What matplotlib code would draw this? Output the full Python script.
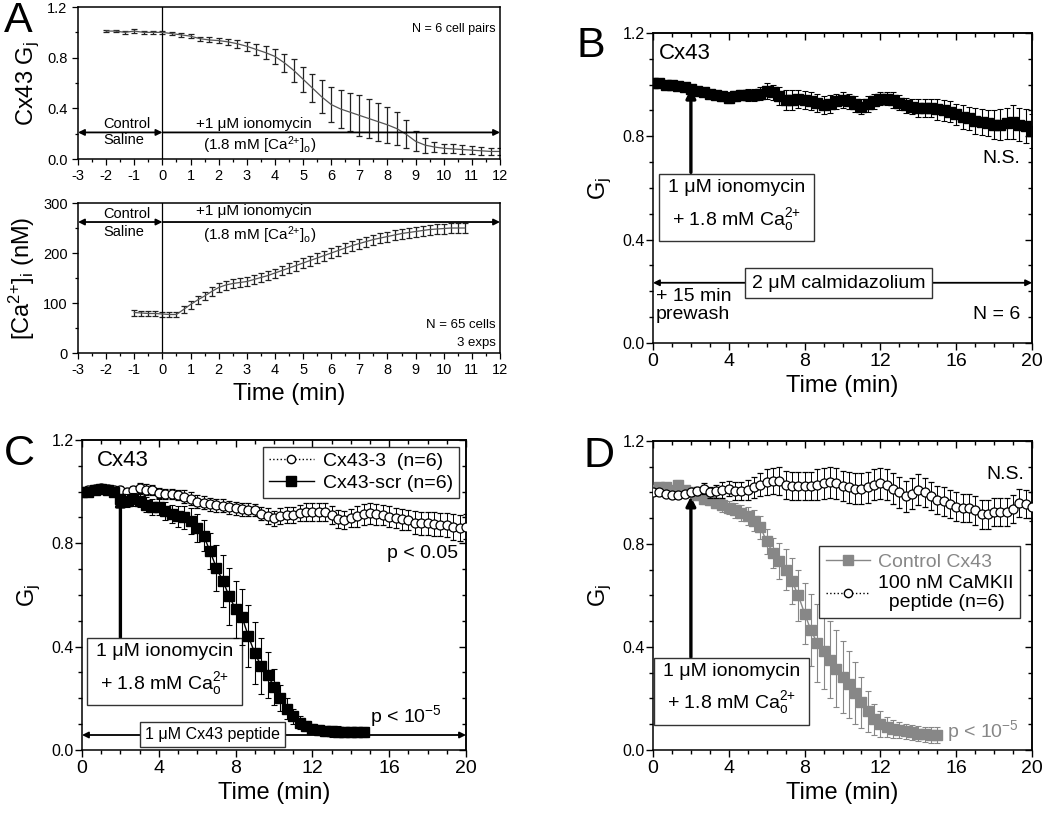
import numpy as np
import matplotlib.pyplot as plt
from matplotlib.ticker import MultipleLocator
from matplotlib.lines import Line2D

plt.rcParams['font.family'] = ['Liberation Sans', 'DejaVu Sans']
plt.rcParams['mathtext.fontset'] = 'custom'
plt.rcParams['mathtext.rm'] = 'Liberation Sans'
plt.rcParams['mathtext.it'] = 'Liberation Sans:italic'
plt.rcParams['mathtext.default'] = 'regular'
plt.rcParams['axes.unicode_minus'] = False
plt.rcParams['axes.linewidth'] = 1.1

# ---------------- data ----------------
# Panel A (top): Cx43 Gj, one point every 20 s from -2 to 12 min
a_gj_time = np.arange(43) / 3 - 2
a_gj = [1.01, 1.01, 1.00, 1.01, 1.00, 1.00, 1.00, 0.99, 0.98, 0.97,
        0.95, 0.94, 0.935, 0.925, 0.91, 0.89, 0.865, 0.84, 0.81, 0.76,
        0.70, 0.63, 0.56, 0.49, 0.43, 0.395, 0.37, 0.345, 0.32, 0.295,
        0.27, 0.24, 0.195, 0.14, 0.11, 0.095, 0.085, 0.08, 0.075, 0.07,
        0.065, 0.06, 0.06]
a_gj_err = [0.01, 0.01, 0.01, 0.015, 0.01, 0.01, 0.01, 0.01, 0.015, 0.015,
            0.015, 0.02, 0.02, 0.025, 0.03, 0.035, 0.04, 0.05, 0.06, 0.07,
            0.09, 0.10, 0.11, 0.13, 0.14, 0.15, 0.15, 0.16, 0.15, 0.15,
            0.14, 0.13, 0.11, 0.08, 0.06, 0.04, 0.035, 0.035, 0.035, 0.03,
            0.03, 0.03, 0.03]

# Panel A (bottom): [Ca2+]i, one point every 15 s from -1 min
a_ca_time = np.arange(48) * 0.25 - 1
a_ca = [81, 80, 79, 79, 78, 77, 77, 87, 97, 106, 114, 123, 131, 136, 139, 141,
        143, 147, 151, 155, 160, 165, 170, 175, 180, 185, 190, 195, 200, 205,
        210, 215, 219, 223, 227, 230, 233, 236, 239, 241, 243, 245, 247, 248,
        249, 250, 250, 250]
a_ca_err = [6, 5, 5, 5, 5, 5, 5, 7, 8, 8, 8, 9, 9, 9, 9, 9,
            9, 9, 9, 9, 9, 9, 10, 10, 10, 10, 10, 10, 10, 10,
            10, 10, 10, 10, 10, 10, 10, 10, 10, 10, 10, 10, 10, 10,
            10, 10, 10, 10]

# Panel B: calmidazolium, 20 s sampling 0-20 min
b_time = np.arange(61) / 3
b_gj = [1.005, 1.005, 1.00, 1.00, 0.995, 0.99, 0.985, 0.975, 0.97, 0.965,
        0.96, 0.955, 0.95, 0.955, 0.96, 0.96, 0.96, 0.965, 0.975, 0.97,
        0.955, 0.94, 0.94, 0.945, 0.94, 0.935, 0.93, 0.92, 0.925, 0.935,
        0.94, 0.935, 0.925, 0.915, 0.925, 0.935, 0.945, 0.945, 0.94, 0.93,
        0.92, 0.915, 0.91, 0.91, 0.91, 0.905, 0.90, 0.895, 0.885, 0.875,
        0.87, 0.86, 0.855, 0.85, 0.845, 0.845, 0.85, 0.855, 0.845, 0.84,
        0.82]
b_err = [0.012, 0.01, 0.01, 0.01, 0.01, 0.012, 0.012, 0.012, 0.015,
         0.015, 0.015, 0.018, 0.02, 0.02, 0.02, 0.022, 0.022, 0.025,
         0.03, 0.03, 0.035, 0.04, 0.04, 0.035, 0.035, 0.035, 0.035,
         0.035, 0.035, 0.03, 0.03, 0.03, 0.03, 0.03, 0.03, 0.03,
         0.025, 0.025, 0.03, 0.03, 0.03, 0.03, 0.035, 0.035, 0.035,
         0.04, 0.04, 0.04, 0.04, 0.045, 0.045, 0.05, 0.05, 0.05,
         0.055, 0.06, 0.06, 0.065, 0.065, 0.065, 0.065]

# Panel C: Cx43-scr (0-14.7 min) and Cx43-3 (0-20 min)
c_scr_time = np.arange(45) / 3
c_scr = [1.00, 1.00, 1.005, 1.01, 1.005, 1.00, 0.97, 0.965, 0.97,
         0.965, 0.95, 0.94, 0.94, 0.925, 0.915, 0.905, 0.90, 0.885,
         0.86, 0.83, 0.77, 0.705, 0.655, 0.595, 0.545, 0.515, 0.44,
         0.375, 0.325, 0.29, 0.245, 0.20, 0.16, 0.13, 0.105, 0.092,
         0.082, 0.078, 0.074, 0.072, 0.071, 0.07, 0.07, 0.07, 0.07]
c_scr_err = [0.015, 0.015, 0.015, 0.015, 0.015, 0.015, 0.02, 0.025, 0.025,
             0.025, 0.03, 0.03, 0.03, 0.035, 0.035, 0.04, 0.045, 0.05,
             0.055, 0.06, 0.07, 0.09, 0.10, 0.11, 0.11, 0.11, 0.12,
             0.12, 0.11, 0.09, 0.07, 0.05, 0.04, 0.03, 0.025, 0.02,
             0.02, 0.02, 0.02, 0.02, 0.02, 0.02, 0.02, 0.02, 0.02]
c_cx3_time = np.arange(61) / 3
c_cx3 = [1.00, 1.005, 1.01, 1.013, 1.01, 1.005, 1.006, 1.00, 1.005,
         1.013, 1.008, 1.006, 0.994, 0.99, 0.99, 0.987, 0.98, 0.972,
         0.961, 0.958, 0.952, 0.948, 0.945, 0.94, 0.935, 0.932, 0.93,
         0.929, 0.915, 0.905, 0.897, 0.905, 0.91, 0.91, 0.918, 0.923,
         0.923, 0.923, 0.92, 0.91, 0.895, 0.89, 0.897, 0.905, 0.912,
         0.916, 0.912, 0.91, 0.903, 0.898, 0.893, 0.89, 0.88, 0.877,
         0.877, 0.875, 0.872, 0.871, 0.862, 0.858, 0.865]
c_cx3_err = [0.015, 0.015, 0.015, 0.015, 0.015, 0.015, 0.015, 0.015, 0.015,
             0.02, 0.02, 0.02, 0.02, 0.02, 0.02, 0.02, 0.025, 0.025,
             0.025, 0.025, 0.025, 0.025, 0.025, 0.025, 0.025, 0.025, 0.025,
             0.025, 0.025, 0.03, 0.03, 0.03, 0.03, 0.03, 0.03, 0.035,
             0.035, 0.035, 0.035, 0.035, 0.035, 0.035, 0.035, 0.04, 0.04,
             0.04, 0.04, 0.04, 0.04, 0.04, 0.04, 0.04, 0.045, 0.045,
             0.045, 0.045, 0.045, 0.045, 0.05, 0.05, 0.05]

# Panel D: control Cx43 (0-15 min) and CaMKII peptide (0-20 min)
d_ctl_time = np.arange(46) / 3
d_ctl = [1.01, 1.02, 1.02, 1.01, 1.03, 1.01, 1.00, 0.99, 0.975,
         0.97, 0.96, 0.95, 0.94, 0.93, 0.92, 0.91, 0.89, 0.865,
         0.81, 0.765, 0.735, 0.70, 0.655, 0.60, 0.53, 0.465, 0.415,
         0.385, 0.35, 0.315, 0.285, 0.255, 0.222, 0.185, 0.15, 0.12,
         0.10, 0.09, 0.083, 0.077, 0.072, 0.068, 0.064, 0.061, 0.059,
         0.058]
d_ctl_err = [0.015, 0.015, 0.015, 0.015, 0.02, 0.015, 0.015, 0.02, 0.02,
             0.02, 0.02, 0.025, 0.025, 0.03, 0.03, 0.035, 0.04, 0.045,
             0.05, 0.06, 0.07, 0.08, 0.09, 0.10, 0.12, 0.14, 0.15,
             0.15, 0.15, 0.15, 0.14, 0.13, 0.12, 0.10, 0.08, 0.06,
             0.05, 0.04, 0.035, 0.03, 0.03, 0.03, 0.03, 0.03, 0.03,
             0.03]
d_pep_time = np.arange(61) / 3
d_pep = [1.00, 1.00, 0.995, 0.99, 0.99, 0.995, 1.00, 1.005, 1.015,
         1.00, 1.005, 1.01, 1.015, 1.005, 1.005, 1.01, 1.02, 1.03,
         1.04, 1.045, 1.045, 1.03, 1.025, 1.025, 1.025, 1.025, 1.03,
         1.035, 1.04, 1.035, 1.025, 1.02, 1.015, 1.015, 1.02, 1.03,
         1.035, 1.03, 1.015, 1.00, 0.985, 0.995, 1.01, 1.00, 0.985,
         0.97, 0.965, 0.955, 0.945, 0.94, 0.94, 0.93, 0.915, 0.915,
         0.925, 0.925, 0.925, 0.935, 0.96, 0.955, 0.945]
d_pep_err = [0.01, 0.01, 0.01, 0.01, 0.01, 0.01, 0.015, 0.015, 0.02,
             0.02, 0.025, 0.03, 0.03, 0.035, 0.035, 0.04, 0.04, 0.045,
             0.05, 0.05, 0.055, 0.055, 0.055, 0.055, 0.055, 0.055, 0.06,
             0.06, 0.06, 0.06, 0.06, 0.06, 0.06, 0.06, 0.06, 0.06,
             0.06, 0.06, 0.06, 0.06, 0.06, 0.06, 0.06, 0.055, 0.055,
             0.055, 0.055, 0.055, 0.055, 0.055, 0.055, 0.055, 0.055, 0.055,
             0.055, 0.055, 0.055, 0.055, 0.055, 0.055, 0.055]

GRAY = '#878787'
iono_txt = '1 \u03bcM ionomycin\n+ 1.8 mM Ca$^{2{+}}_{o}$'
ca_o_txt = '(1.8 mM [Ca$^{2{+}}$]$_o$)'


def mirror_ticks(ax, xmaj, xmin, ymaj, ymin):
    # Origin style: ticks out on left/bottom, in on top/right
    top = ax.secondary_xaxis('top')
    top.xaxis.set_major_locator(MultipleLocator(xmaj))
    top.xaxis.set_minor_locator(MultipleLocator(xmin))
    top.tick_params(which='both', direction='in', labeltop=False)
    top.tick_params(which='major', length=5, width=1)
    top.tick_params(which='minor', length=3, width=1)
    right = ax.secondary_yaxis('right')
    right.yaxis.set_major_locator(MultipleLocator(ymaj))
    right.yaxis.set_minor_locator(MultipleLocator(ymin))
    right.tick_params(which='both', direction='in', labelright=False)
    right.tick_params(which='major', length=5, width=1)
    right.tick_params(which='minor', length=3, width=1)


def gj_axes(ax):
    ax.set_xlim(0, 20)
    ax.set_ylim(0, 1.2)
    ax.xaxis.set_major_locator(MultipleLocator(4))
    ax.xaxis.set_minor_locator(MultipleLocator(1))
    ax.yaxis.set_major_locator(MultipleLocator(0.4))
    ax.yaxis.set_minor_locator(MultipleLocator(0.1))
    ax.tick_params(which='major', direction='out', length=5, width=1)
    ax.tick_params(which='minor', direction='out', length=3, width=1)
    ax.tick_params(axis='x', labelsize=14, pad=2)
    ax.tick_params(axis='y', labelsize=11.5, pad=1)
    ax.set_xlabel('Time (min)', fontsize=17, labelpad=4)
    ax.set_ylabel('G$_j$', fontsize=17, labelpad=6)
    mirror_ticks(ax, 4, 1, 0.4, 0.1)


def iono_box(ax, cx, cy, ytop):
    ax.annotate('', xy=(2, 0.985), xytext=(2, ytop),
                arrowprops=dict(arrowstyle='-|>', lw=2.4, color='k',
                                mutation_scale=14, shrinkA=0, shrinkB=0))
    ax.text(cx, cy, iono_txt, ha='center', va='center', fontsize=14,
            linespacing=1.5,
            bbox=dict(boxstyle='square,pad=0.45', fc='white', ec='#333333', lw=1))


def hline_arrow(ax, x0, x1, y, both=True):
    style = '<|-|>' if both else '-|>'
    ax.annotate('', xy=(x1, y), xytext=(x0, y),
                arrowprops=dict(arrowstyle=style, lw=1.3, color='k',
                                mutation_scale=9, shrinkA=0, shrinkB=0))


fig = plt.figure(figsize=(10.5, 8.16), dpi=100)

# ---------------- Panel A ----------------
axA1 = fig.add_axes([0.0743, 0.8051, 0.4019, 0.1863])
axA2 = fig.add_axes([0.0743, 0.5674, 0.4019, 0.1838])

axA1.errorbar(a_gj_time, a_gj, yerr=a_gj_err, color='#555555', lw=0.9,
              ecolor='#222222', elinewidth=0.9, capsize=2.5, capthick=0.9)
axA1.set_ylim(0, 1.2)
axA1.yaxis.set_major_locator(MultipleLocator(0.4))
axA1.yaxis.set_minor_locator(MultipleLocator(0.2))
axA1.set_ylabel('Cx43 G$_j$', fontsize=17, labelpad=4)
axA1.text(11.85, 1.03, 'N = 6 cell pairs', ha='right', va='center', fontsize=9)
axA1.text(-2.1, 0.28, 'Control', ha='left', va='center', fontsize=10.5)
axA1.text(-2.1, 0.15, 'Saline', ha='left', va='center', fontsize=10.5)
axA1.text(3.25, 0.28, '+1 \u03bcM ionomycin', ha='center', va='center', fontsize=11)
axA1.text(3.45, 0.11, ca_o_txt, ha='center', va='center', fontsize=11)
hline_arrow(axA1, -3, 0, 0.21)
hline_arrow(axA1, 0, 12, 0.21, both=False)

axA2.errorbar(a_ca_time, a_ca, yerr=a_ca_err, color='#555555', lw=0.9,
              ecolor='#222222', elinewidth=0.9, capsize=2.5, capthick=0.9)
axA2.set_ylim(0, 300)
axA2.yaxis.set_major_locator(MultipleLocator(100))
axA2.yaxis.set_minor_locator(MultipleLocator(50))
axA2.set_ylabel('[Ca$^{2{+}}$]$_i$ (nM)', fontsize=17, labelpad=4)
axA2.set_xlabel('Time (min)', fontsize=17, labelpad=4)
axA2.text(11.85, 56, 'N = 65 cells', ha='right', va='center', fontsize=9.5)
axA2.text(11.85, 20, '3 exps', ha='right', va='center', fontsize=9.5)
axA2.text(-2.1, 278, 'Control', ha='left', va='center', fontsize=10.5)
axA2.text(-2.1, 243, 'Saline', ha='left', va='center', fontsize=10.5)
axA2.text(3.25, 285, '+1 \u03bcM ionomycin', ha='center', va='center', fontsize=11)
axA2.text(3.45, 236, ca_o_txt, ha='center', va='center', fontsize=11)
hline_arrow(axA2, -3, 0, 262)
hline_arrow(axA2, 0, 12, 262, both=False)

for ax in (axA1, axA2):
    ax.set_xlim(-3, 12)
    ax.axvline(0, color='k', lw=0.9)
    ax.xaxis.set_major_locator(MultipleLocator(1))
    ax.xaxis.set_minor_locator(MultipleLocator(0.5))
    ax.tick_params(which='major', direction='out', length=4, width=0.9, labelsize=10.5)
    ax.tick_params(which='minor', direction='out', length=2.5, width=0.9)

# ---------------- Panel B ----------------
axB = fig.add_axes([0.6219, 0.5797, 0.361, 0.3799])
axB.errorbar(b_time, b_gj, yerr=b_err, fmt='s-', color='k', ms=7, lw=1,
             ecolor='k', elinewidth=0.8, capsize=2.2, capthick=0.8)
gj_axes(axB)
axB.text(0.3, 1.12, 'Cx43', ha='left', va='center', fontsize=16)
axB.text(19.4, 0.715, 'N.S.', ha='right', va='center', fontsize=14)
axB.text(19.4, 0.11, 'N = 6', ha='right', va='center', fontsize=14)
axB.text(0.15, 0.145, '+ 15 min\nprewash', ha='left', va='center', fontsize=14,
         linespacing=1.15)
hline_arrow(axB, 0, 20, 0.233)
axB.text(9.8, 0.232, '2 \u03bcM calmidazolium', ha='center', va='center', fontsize=14,
         bbox=dict(boxstyle='square,pad=0.35', fc='white', ec='#333333', lw=1))
iono_box(axB, 4.4, 0.53, 0.66)

# ---------------- Panel C ----------------
axC = fig.add_axes([0.0781, 0.0809, 0.3657, 0.3799])
axC.errorbar(c_cx3_time, c_cx3, yerr=c_cx3_err, fmt='o:', color='k', ms=6.5,
             mfc='white', mec='k', mew=0.9, lw=0.8, ecolor='k',
             elinewidth=0.7, capsize=2, capthick=0.7, zorder=3)
axC.errorbar(c_scr_time, c_scr, yerr=c_scr_err, fmt='s-', color='k', ms=6.5,
             lw=1, ecolor='k', elinewidth=0.8, capsize=2, capthick=0.8, zorder=4)
gj_axes(axC)
axC.text(0.8, 1.12, 'Cx43', ha='left', va='center', fontsize=16)
axC.text(19.6, 0.76, 'p < 0.05', ha='right', va='center', fontsize=14)
axC.text(15.0, 0.13, 'p < 10$^{-5}$', ha='left', va='center', fontsize=14)
hline_arrow(axC, 0, 20, 0.058)
axC.text(6.8, 0.06, '1 \u03bcM Cx43 peptide', ha='center', va='center', fontsize=11.5,
         bbox=dict(boxstyle='square,pad=0.3', fc='white', ec='#333333', lw=1))
iono_box(axC, 4.3, 0.31, 0.435)
c_handles = [Line2D([], [], ls=':', color='k', lw=1, marker='o', ms=6,
                    mfc='white', mec='k'),
             Line2D([], [], ls='-', color='k', lw=1, marker='s', ms=7)]
legC = axC.legend(c_handles, ['Cx43-3  (n=6)', 'Cx43-scr (n=6)'], loc='upper right',
                  fontsize=14, frameon=True, fancybox=False, edgecolor='#333333',
                  framealpha=1, handlelength=2.3, borderpad=0.3, labelspacing=0.2,
                  handletextpad=0.5, borderaxespad=0.35)
legC.get_frame().set_linewidth(1)

# ---------------- Panel D ----------------
axD = fig.add_axes([0.6219, 0.0809, 0.361, 0.3787])
axD.errorbar(d_ctl_time, d_ctl, yerr=d_ctl_err, fmt='s-', color=GRAY, ms=7,
             lw=1, ecolor=GRAY, elinewidth=0.8, capsize=2.5, capthick=0.8, zorder=3)
axD.errorbar(d_pep_time, d_pep, yerr=d_pep_err, fmt='o:', color='k', ms=6.5,
             mfc='white', mec='k', mew=0.9, lw=0.8, ecolor='k',
             elinewidth=0.7, capsize=2.2, capthick=0.7, zorder=4)
gj_axes(axD)
axD.text(19.6, 1.07, 'N.S.', ha='right', va='center', fontsize=14)
axD.text(15.5, 0.075, 'p < 10$^{-5}$', ha='left', va='center', fontsize=14, color=GRAY)
iono_box(axD, 4.15, 0.235, 0.36)
d_handles = [Line2D([], [], ls='-', color=GRAY, lw=1, marker='s', ms=7),
             Line2D([], [], ls=':', color='k', lw=1, marker='o', ms=6,
                    mfc='white', mec='k')]
legD = axD.legend(d_handles, ['Control Cx43', '100 nM CaMKII\n  peptide (n=6)'],
                  loc='upper right', bbox_to_anchor=(0.995, 0.69), fontsize=14,
                  frameon=True, fancybox=False, edgecolor='#333333', framealpha=1,
                  handlelength=2.3, borderpad=0.35, labelspacing=0.2,
                  handletextpad=0.4)
legD.get_frame().set_linewidth(1)
legD.get_texts()[0].set_color(GRAY)

# ---------------- panel letters ----------------
fig.text(0.004, 0.999, 'A', fontsize=31, ha='left', va='top')
fig.text(0.549, 0.968, 'B', fontsize=31, ha='left', va='top')
fig.text(0.004, 0.468, 'C', fontsize=31, ha='left', va='top')
fig.text(0.556, 0.466, 'D', fontsize=31, ha='left', va='top')

fig.savefig('out.png', dpi=100)
